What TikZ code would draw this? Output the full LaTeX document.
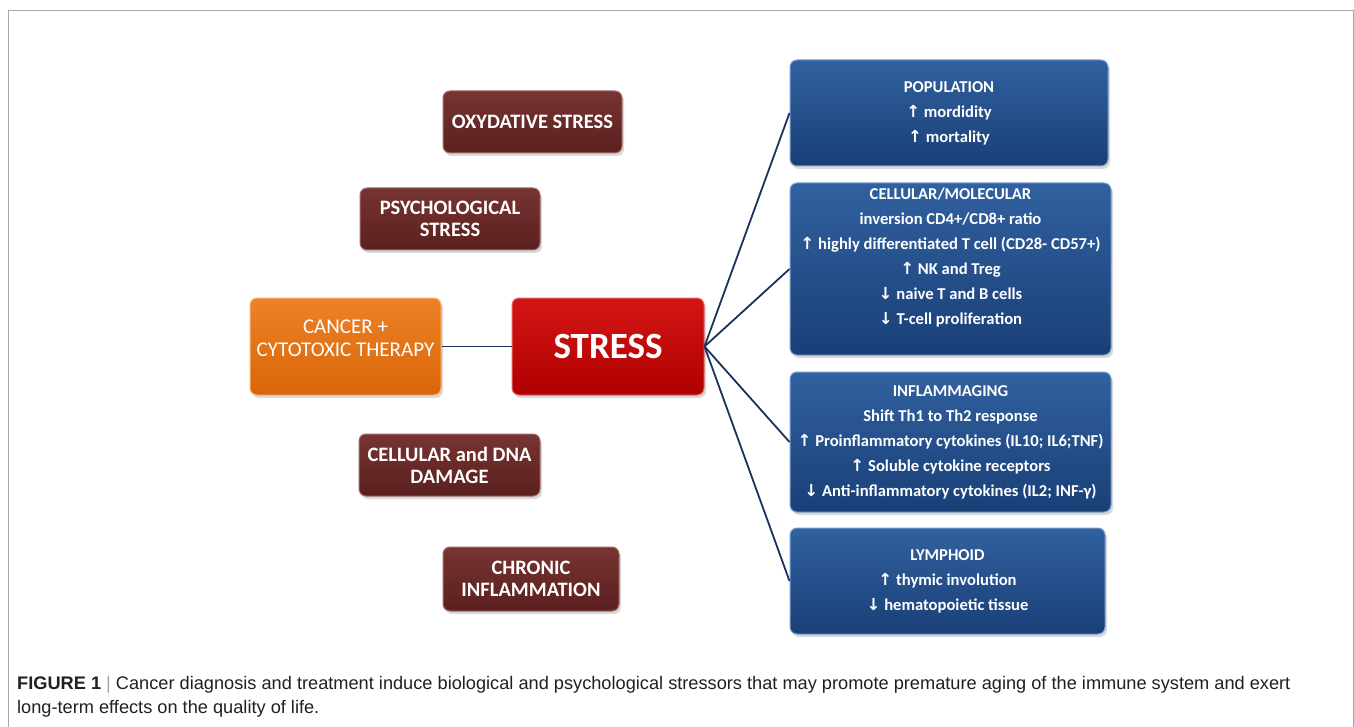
\documentclass[tikz,border=0pt]{standalone}
\usepackage{fontspec}
\setmainfont{Carlito}
\newfontfamily\capfont{Liberation Sans}
\newfontfamily\arrfont{DejaVu Sans}
\usepackage{xcolor}
\usepackage{tikz}
\usetikzlibrary{shadows}

\definecolor{framegray}{HTML}{A6A6A6}
\definecolor{linkblue}{HTML}{17335E}
\definecolor{bluemain}{HTML}{1F4E8C}
\definecolor{bluelight}{HTML}{31619F}
\definecolor{bluedark}{HTML}{193F77}
\definecolor{blueedge}{HTML}{7E9FCC}
\definecolor{maroonmain}{HTML}{632523}
\definecolor{maroonlight}{HTML}{773432}
\definecolor{maroondark}{HTML}{5A201E}
\definecolor{maroonedge}{HTML}{A36A68}
\definecolor{redmain}{HTML}{C00000}
\definecolor{redlight}{HTML}{D41515}
\definecolor{reddark}{HTML}{B00000}
\definecolor{rededge}{HTML}{E56A6A}
\definecolor{orangemain}{HTML}{E46C0A}
\definecolor{orangelight}{HTML}{EC8226}
\definecolor{orangedark}{HTML}{DA6508}
\definecolor{orangeedge}{HTML}{F6B575}
\definecolor{captext}{HTML}{231F20}

\newcommand{\arrup}{{\arrfont ↑}}
\newcommand{\arrdn}{{\arrfont ↓}}

\tikzset{
  boxbase/.style={rounded corners=7pt, line width=1pt, align=center, text=white, inner sep=0pt,
    drop shadow={opacity=0.3, shadow xshift=2pt, shadow yshift=-3pt}},
  maroonbox/.style={boxbase, draw=maroonedge, top color=maroonlight, middle color=maroonmain,
    bottom color=maroondark, font=\fontsize{20.5}{22}\selectfont\bfseries},
  bluebox/.style={boxbase, draw=blueedge, top color=bluelight, middle color=bluemain,
    bottom color=bluedark, font=\fontsize{16.6}{25}\selectfont\bfseries},
  link/.style={draw=linkblue, line width=1.8pt},
}

\begin{document}
\begin{tikzpicture}[x=1pt, y=-1pt]
            \useasboundingbox (0,0) rectangle (1354,727);
            \draw[framegray, line width=1pt] (8,740) -- (8,11) -- (1353,11) -- (1353,740);

            % causes
            \node[maroonbox, minimum width=179pt, minimum height=62pt] at (532.5,122) (oxy) {OXYDATIVE STRESS};
            \node[maroonbox, minimum width=180pt, minimum height=62pt] at (450,219) (psych) {PSYCHOLOGICAL\\STRESS};
            \node[boxbase, draw=orangeedge, top color=orangelight, middle color=orangemain, bottom color=orangedark,
                  font=\fontsize{21}{23}\selectfont, minimum width=191pt, minimum height=97pt] at (345.5,346.5) (cancer) {CANCER +\\CYTOTOXIC THERAPY\\[-7pt]};
            \node[boxbase, draw=rededge, top color=redlight, middle color=redmain, bottom color=reddark,
                  font=\fontsize{37}{40}\selectfont\bfseries, minimum width=192pt, minimum height=97pt] at (608,346.5) (stress) {STRESS};
            \node[maroonbox, minimum width=181pt, minimum height=62pt] at (449.5,465) (dna) {CELLULAR and DNA\\DAMAGE};
            \node[maroonbox, minimum width=176pt, minimum height=64pt] at (531,579) (chronic) {CHRONIC\\INFLAMMATION};

            % effects
            \node[bluebox, minimum width=318pt, minimum height=106pt] at (949,113) (pop) {POPULATION\\
                \arrup{} mordidity\\
                \arrup{} mortality};
            \node[bluebox, minimum width=321pt, minimum height=172pt] at (950.5,269) (cell) {CELLULAR/MOLECULAR\\
                inversion CD4+/CD8+ ratio\\
                \arrup{} highly differentiated T cell (CD28- CD57+)\\
                \arrup{} NK and Treg\\
                \arrdn{} naive T and B cells\\
                \arrdn{} T-cell proliferation\\ \mbox{}};
            \node[bluebox, minimum width=321pt, minimum height=140pt] at (950.5,442) (infl) {INFLAMMAGING\\
                Shift Th1 to Th2 response\\
                \arrup{} Proinflammatory cytokines (IL10; IL6;TNF)\\
                \arrup{} Soluble cytokine receptors\\
                \arrdn{} Anti-inflammatory cytokines (IL2; INF-γ)};
            \node[bluebox, minimum width=315pt, minimum height=106pt] at (947.5,581) (lymph) {LYMPHOID\\
                \arrup{} thymic involution\\
                \arrdn{} hematopoietic tissue};

            \draw[link] (cancer) -- (stress);
            \foreach \b in {pop,cell,infl,lymph}
                \draw[link] (stress.east) -- (\b.west);

            % caption
            \node[anchor=base west, inner sep=0pt, text=captext, font=\capfont\fontsize{18.2}{24}\selectfont] at (17,689) (cap1)
                {\textbf{FIGURE 1} \textcolor{framegray}{|} Cancer diagnosis and treatment induce biological and psychological stressors that may promote premature aging of the immune system and exert};
            \node[anchor=base west, inner sep=0pt, text=captext, font=\capfont\fontsize{18.2}{24}\selectfont] at (17,713) (cap2)
                {long-term effects on the quality of life.};
        \end{tikzpicture}
\end{document}
